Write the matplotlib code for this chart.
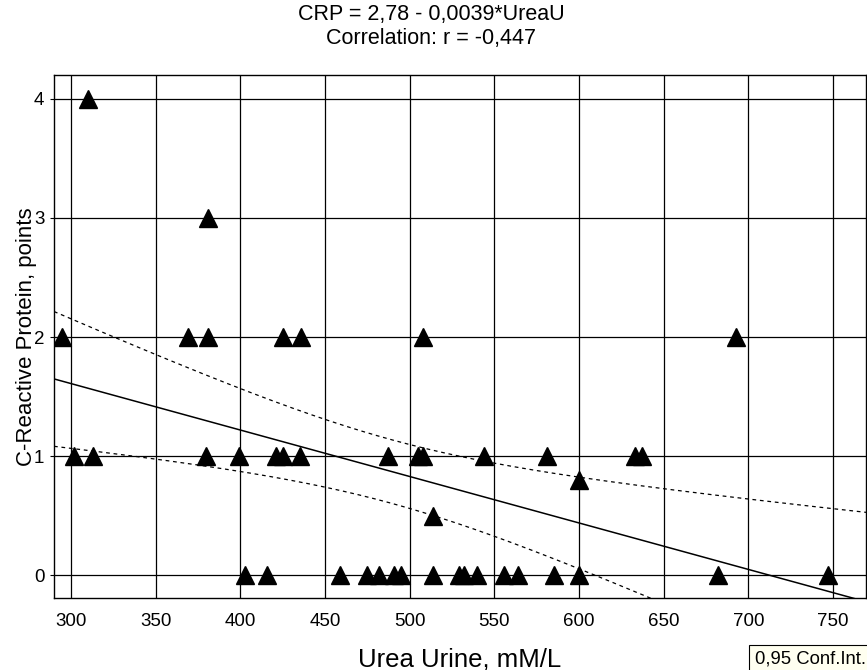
import numpy as np
import matplotlib
matplotlib.use("Agg")
import matplotlib.pyplot as plt

plt.rcParams['font.family'] = ['Liberation Sans', 'DejaVu Sans']

# urine urea (mM/L) and CRP (points)
urea = [310, 381,
        295, 369, 381, 425, 436, 508, 693,
        302, 313, 380, 399, 421, 425, 435, 487, 505, 508, 544, 581, 633, 637,
        600, 514,
        403, 416, 459, 475, 482, 491, 495, 514, 529, 532, 540, 556, 564, 585, 600, 682, 747]
crp = [4, 3,
       2, 2, 2, 2, 2, 2, 2,
       1, 1, 1, 1, 1, 1, 1, 1, 1, 1, 1, 1, 1, 1,
       0.8, 0.5,
       0, 0, 0, 0, 0, 0, 0, 0, 0, 0, 0, 0, 0, 0, 0, 0, 0]

intercept = 2.78
slope = -0.0039
xticks = [300, 350, 400, 450, 500, 550, 600, 650, 700, 750]
yticks = [0, 1, 2, 3, 4]

x = np.array(urea, dtype=float)
y = np.array(crp, dtype=float)
n = len(x)
xm = x.mean()
sxx = ((x - xm) ** 2).sum()
resid = y - (intercept + slope * x)
s = np.sqrt((resid ** 2).sum() / (n - 2))
t = 2.021  # t(0.975, ~40 df)

xs = np.linspace(290, 769.5, 300)
fit = intercept + slope * xs
half = t * s * np.sqrt(1.0 / n + (xs - xm) ** 2 / sxx)

fig = plt.figure(figsize=(8.67, 6.70), dpi=100)
ax = fig.add_axes([54 / 867, 72 / 670, 812 / 867, 523 / 670])

ax.grid(True, color='black', linewidth=0.9)
ax.set_axisbelow(True)
ax.plot(xs, fit, color='black', linewidth=1.1)
ax.plot(xs, fit + half, color='black', linewidth=0.9, linestyle=(0, (3, 3)))
ax.plot(xs, fit - half, color='black', linewidth=0.9, linestyle=(0, (3, 3)))
ax.plot(x, y, linestyle='none', marker='^', markersize=13.5, color='black')

ax.set_xlim(290, 769.5)
ax.set_ylim(-0.19, 4.2)
ax.set_xticks(xticks)
ax.set_yticks(yticks)
ax.tick_params(direction='out', labelsize=13.5, color='black')
ax.tick_params(axis='x', length=0, pad=11)
ax.tick_params(axis='y', length=3, pad=4)
for sp in ax.spines.values():
    sp.set_color('black')
    sp.set_linewidth(1.0)

ax.set_xlabel("Urea Urine, mM/L", fontsize=18.5)
ax.xaxis.set_label_coords(0.5, -0.094)
ax.set_ylabel("C-Reactive Protein, points", fontsize=16)
ax.yaxis.set_label_coords(-0.021, 0.5)

fig.text(0.497, 0.978, "CRP = 2,78 - 0,0039*UreaU", ha='center', va='center', fontsize=15.5)
fig.text(0.497, 0.942, "Correlation: r = -0,447", ha='center', va='center', fontsize=15.5)

fig.text(755 / 867, 6 / 670, "0,95 Conf.Int.", fontsize=13.3, ha='left', va='baseline',
         bbox=dict(boxstyle='square,pad=0.35', facecolor='#fffff0', edgecolor='black', linewidth=0.8))

fig.savefig("out.png", dpi=100)
